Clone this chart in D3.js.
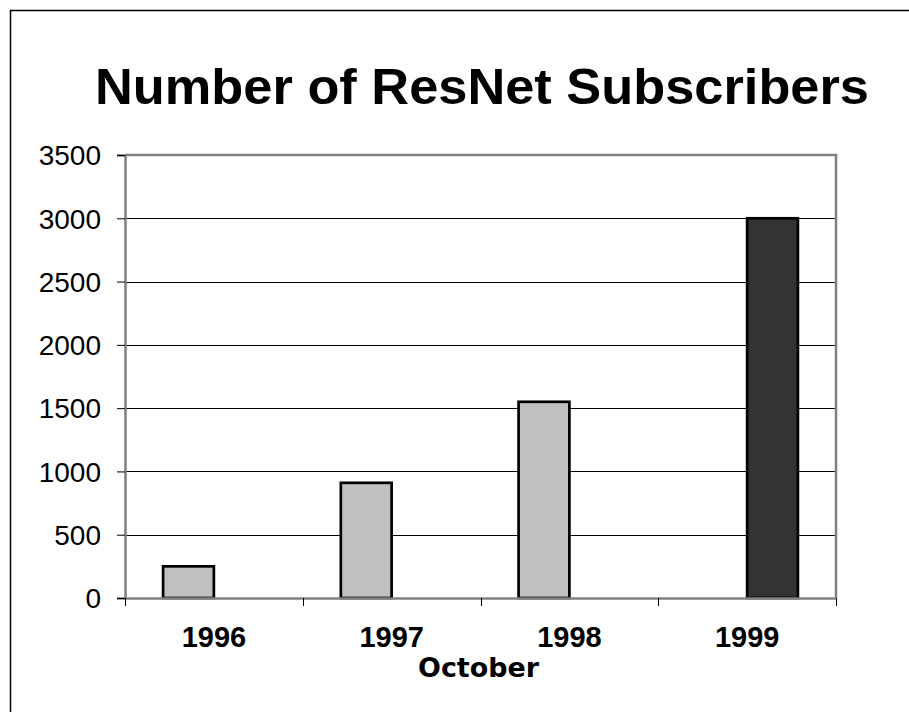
<!DOCTYPE html>
<html><head><meta charset="utf-8">
<script src="https://cdn.jsdelivr.net/npm/d3@7"></script>
<style>body{margin:0;background:#fff}svg{display:block}</style>
</head><body>
<script>
const categories = ["1996", "1997", "1998", "1999"];
const seriesNames = ["Oct", "Oct 1999"];
const seriesA = [250, 910, 1550, 0];
const seriesB = [0, 0, 0, 3000];
const yTicks = [0, 500, 1000, 1500, 2000, 2500, 3000, 3500];
const title = "Number of ResNet Subscribers";
const xTitle = "October";

const W = 909, H = 712;
const svg = d3.select("body").append("svg").attr("width", W).attr("height", H);
svg.append("rect").attr("width", W).attr("height", H).attr("fill", "#fff");
svg.append("rect").attr("x", 10.5).attr("y", 10.5).attr("width", 1000).attr("height", 1000)
  .attr("fill", "none").attr("stroke", "#000").attr("stroke-width", 1.5);

const L = 125, R = 836, T = 155, B = 598;
const x = d3.scaleBand().domain(categories).range([L, R]).paddingInner(0).paddingOuter(0);
const y = d3.scaleLinear().domain([0, 3500]).range([B, T]);
const gap = 1.5;
const bw = x.bandwidth() / (2 + gap);
const xs = d3.scaleBand().domain([0, 1]).range([bw * gap / 2, bw * gap / 2 + 2 * bw]);

// gridlines
svg.append("g").selectAll("line").data(yTicks.filter(d => d > 0 && d < 3500)).join("line")
  .attr("x1", L).attr("x2", R).attr("y1", d => Math.round(y(d)) + 0.5).attr("y2", d => Math.round(y(d)) + 0.5)
  .attr("stroke", "#000").attr("stroke-width", 1);

// plot frame top/right
svg.append("path").attr("d", `M${L},${T}H${R}V${B}`).attr("fill", "none")
  .attr("stroke", "#808080").attr("stroke-width", 2.5);

// bars
const series = [seriesA, seriesB];
const fills = ["#c0c0c0", "#333333"];
series.forEach((vals, si) => {
  svg.append("g").selectAll("rect").data(categories.map((c, i) => ({c, v: vals[i]})).filter(d => d.v > 0))
    .join("rect")
    .attr("x", d => x(d.c) + xs(si))
    .attr("y", d => y(d.v))
    .attr("width", xs.bandwidth())
    .attr("height", d => y(0) - y(d.v))
    .attr("fill", fills[si]).attr("stroke", "#000").attr("stroke-width", 2.7);
});

// y axis
const yAxis = d3.axisLeft(y).tickValues(yTicks).tickSize(8).tickPadding(16).tickFormat(d3.format("d"));
const gy = svg.append("g").attr("transform", `translate(${L},0)`).call(yAxis);
gy.select(".domain").attr("stroke", "#808080").attr("stroke-width", 2.5);
gy.selectAll(".tick line").attr("stroke", "#000").attr("stroke-width", 1);
gy.selectAll(".tick text").attr("font-family", "Liberation Sans, Arial, sans-serif")
  .attr("font-size", 28).attr("fill", "#000").attr("dy", "0.35em");

// x axis
const xAxis = d3.axisBottom(x).tickSize(0).tickPadding(30);
const gx = svg.append("g").attr("transform", `translate(0,${B})`).call(xAxis);
gx.select(".domain").attr("stroke", "#808080").attr("stroke-width", 2.5);
gx.selectAll(".tick text").attr("font-family", "Liberation Sans, Arial, sans-serif")
  .attr("font-weight", "bold").attr("font-size", 29).attr("fill", "#000").attr("dy", 0);
// category boundary ticks
const bounds = categories.map(c => x(c)).concat([R]);
svg.append("g").selectAll("line").data(bounds).join("line")
  .attr("x1", d => Math.round(d) + 0.5).attr("x2", d => Math.round(d) + 0.5)
  .attr("y1", B).attr("y2", B + 8).attr("stroke", "#000").attr("stroke-width", 1);
gx.selectAll(".tick text").attr("y", 49);

// titles
svg.append("text").attr("x", 482).attr("y", 104).attr("text-anchor", "middle")
  .attr("font-family", "Liberation Sans, Arial, sans-serif").attr("font-weight", "bold")
  .attr("font-size", 50).attr("textLength", 774).attr("lengthAdjust", "spacingAndGlyphs")
  .text(title);
svg.append("text").attr("x", 478.5).attr("y", 677).attr("text-anchor", "middle")
  .attr("font-family", "DejaVu Sans, sans-serif").attr("font-weight", "bold")
  .attr("font-size", 27).attr("textLength", 121).attr("lengthAdjust", "spacingAndGlyphs")
  .text(xTitle);
</script>
</body></html>
